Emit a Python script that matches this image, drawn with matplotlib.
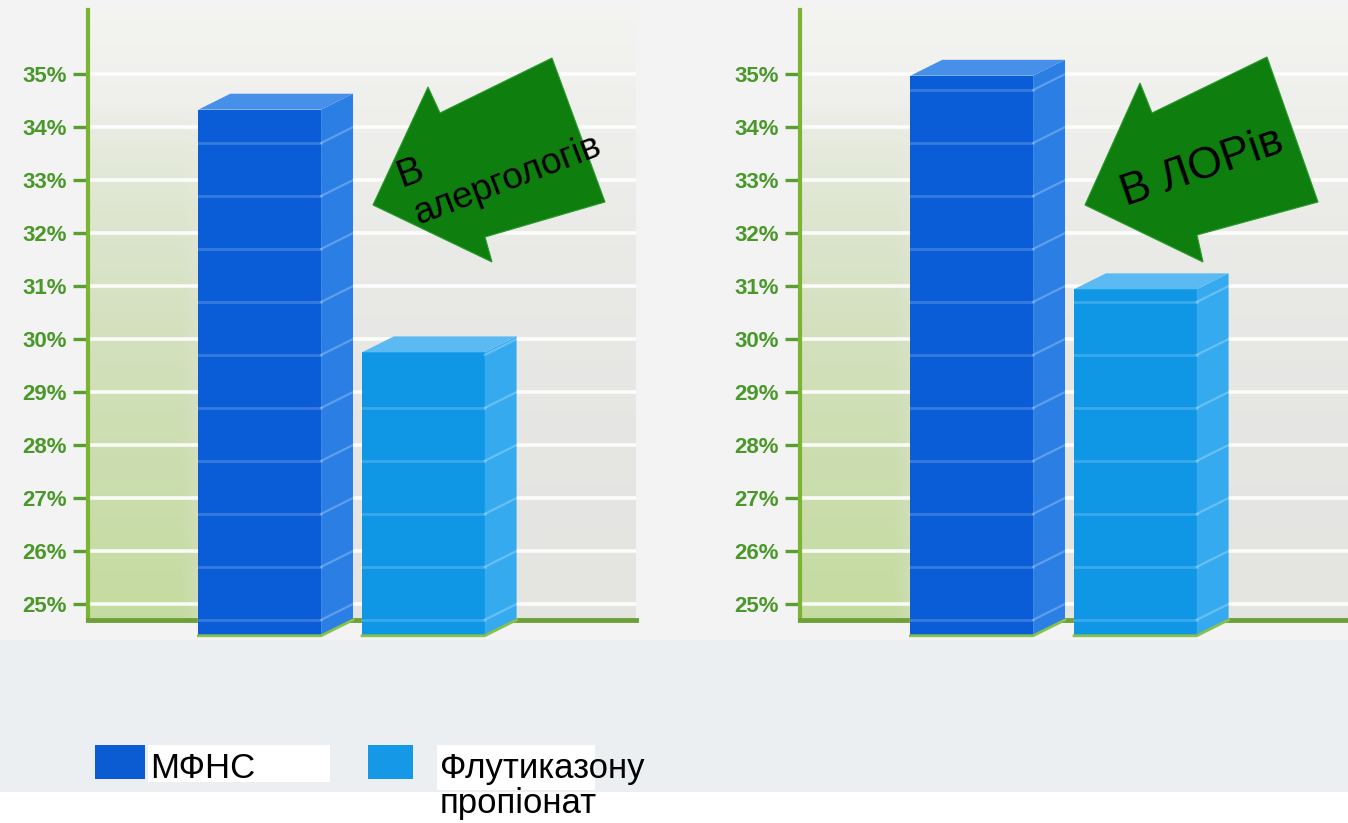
import numpy as np
import matplotlib
matplotlib.use('Agg')
import matplotlib.pyplot as plt
from matplotlib.patches import Polygon, Rectangle

plt.rcParams['font.family'] = ['Liberation Sans', 'DejaVu Sans']

# ---------------- data ----------------
series = ['МФНС', 'Флутиказону\nпропіонат']
panel_labels = ['В\nалергологів', 'В ЛОРів']
allergists = [34.33, 29.75]   # "В алергологів"
ent_doctors = [34.97, 30.94]  # "В ЛОРів"
yticks = list(range(25, 36))
ytick_labels = [f'{t}%' for t in yticks]

# ---------------- style ----------------
W, H = 1348, 823
front_colors = ['#0a5dd6', '#0f97e6']
side_colors = ['#2a7ee4', '#35aaef']
top_colors = ['#4690ea', '#5cbaf2']
legend_colors = ['#0b5bd3', '#1599e6']
arrow_green = '#0e7f0e'
tick_green = '#4a972a'
axis_green = '#79b532'

YB, YT = 24.32, 36.21      # y-limits
BASE = 24.70               # axis baseline
BOTTOM = 24.40             # bar front bottom
DX, DY = 0.195, 0.30       # 3-D depth offset
BW = 0.75
XL, XR = -1.05, 2.30


def fx(x):
    return x / W


def fy(y):
    return 1 - y / H


fig = plt.figure(figsize=(W / 100, H / 100), dpi=100)
fig.patch.set_facecolor('#f3f3f3')

# bottom bands
fig.patches.append(Rectangle((0, fy(792)), 1, (792 - 640) / H, transform=fig.transFigure,
                             facecolor='#ebeff1', edgecolor='none', zorder=-5))
fig.patches.append(Rectangle((0, 0), 1, fy(792), transform=fig.transFigure,
                             facecolor='white', edgecolor='none', zorder=-4))


def background(ax):
    nx, ny = 300, 200
    u = np.linspace(0, 1, nx)[None, :]
    v = np.linspace(0, 1, ny)[:, None]
    gx = np.clip(1 - (u - 0.17) / 0.12, 0, 1)
    gy = np.clip(1 - v / 0.85, 0, 1) ** 0.7
    g = gx * gy
    gray = np.array([0.895, 0.895, 0.885]) + 0.06 * (v ** 2)[..., None] * np.ones((1, nx, 1))
    green = np.array([0.77, 0.86, 0.63])
    img = gray * (1 - g[..., None]) + green * g[..., None]
    img = np.clip(img, 0, 1)
    ax.imshow(img, extent=[XL, XR, BASE, YT], origin='lower', aspect='auto',
              zorder=0, interpolation='bilinear')


def draw_panel(ax, values):
    ax.set_xlim(XL, XR)
    ax.set_ylim(YB, YT)
    ax.set_facecolor('none')
    for s in ax.spines.values():
        s.set_visible(False)
    background(ax)
    # gridlines
    for t in yticks:
        ax.plot([XL, XR], [t, t], color='white', lw=2.6, alpha=0.9, zorder=1,
                solid_capstyle='butt')
    # axes lines
    ax.plot([XL, XL], [BASE, YT], color=axis_green, lw=3, zorder=2, clip_on=False)
    ax.plot([XL, XR], [BASE, BASE], color='#6e9f38', lw=3.5, zorder=2, clip_on=False)

    x = np.arange(len(values))
    vals = np.array(values)
    ax.bar(x, vals - BOTTOM, bottom=BOTTOM, width=BW, color=front_colors,
           linewidth=0, zorder=3)
    for xi, v, sc, tc in zip(x, vals, side_colors, top_colors):
        xl, xr = xi - BW / 2, xi + BW / 2
        ax.add_patch(Polygon([(xr, BOTTOM), (xr + DX, BOTTOM + DY), (xr + DX, v + DY), (xr, v)],
                             closed=True, facecolor=sc, edgecolor='none', zorder=3))
        ax.add_patch(Polygon([(xl, v), (xl + DX, v + DY), (xr + DX, v + DY), (xr, v)],
                             closed=True, facecolor=tc, edgecolor='none', zorder=3))
        for t in yticks:
            yy = t - DY
            if BOTTOM < yy < v - 0.1:
                ax.plot([xl, xr], [yy, yy], color='white', alpha=0.18, lw=2, zorder=4)
            if BOTTOM < yy < v:
                ax.plot([xr, xr + DX], [yy, t], color='white', alpha=0.25, lw=1.6, zorder=4)
        ax.plot([xl, xr, xr + DX], [BOTTOM, BOTTOM, BOTTOM + DY], color='#86c24c',
                lw=2, zorder=4, clip_on=False)

    ax.set_xticks([])
    ax.set_yticks(yticks)
    ax.set_yticklabels(ytick_labels, fontweight='bold', fontsize=16, color=tick_green)
    ax.tick_params(axis='y', length=11, width=2.4, color='#5a9e30', pad=4)


# axes
ax1 = fig.add_axes([fx(88), fy(640), (636 - 88) / W, 630 / H])
ax2 = fig.add_axes([fx(800), fy(640), (1348 - 800) / W, 630 / H])
draw_panel(ax1, allergists)
draw_panel(ax2, ent_doctors)

# arrows (decorative annotations)
arrow_left = [(373, 205), (428, 87), (440, 113), (552, 58), (605, 202), (485, 237), (492, 262)]
arrow_right = [(1085, 205), (1140, 83), (1152, 113), (1267, 57), (1318, 202), (1197, 235), (1203, 262)]
for pts in (arrow_left, arrow_right):
    fig.patches.append(Polygon([(fx(a), fy(b)) for a, b in pts], closed=True,
                               transform=fig.transFigure, facecolor=arrow_green,
                               edgecolor='#2a9a2a', lw=0.8, zorder=10))

l1, l2 = panel_labels[0].split('\n')
fig.text(fx(402), fy(187), l1, rotation=20, rotation_mode='anchor', ha='left',
         va='baseline', fontsize=28, color='black', zorder=11)
fig.text(fx(419), fy(225), l2, rotation=21, rotation_mode='anchor', ha='left',
         va='baseline', fontsize=26.5, color='black', zorder=11)
fig.text(fx(1126), fy(206), panel_labels[1], rotation=19, rotation_mode='anchor', ha='left',
         va='baseline', fontsize=32, color='black', zorder=11)

# legend
leg_font = ['Liberation Sans', 'DejaVu Sans']
fig.patches.append(Rectangle((fx(148), fy(782)), (330 - 148) / W, 37 / H, transform=fig.transFigure,
                             facecolor='white', edgecolor='none', zorder=6))
fig.patches.append(Rectangle((fx(437), fy(790)), (595 - 437) / W, 45 / H, transform=fig.transFigure,
                             facecolor='white', edgecolor='none', zorder=6))
fig.patches.append(Rectangle((fx(95), fy(779)), 50 / W, 34 / H, transform=fig.transFigure,
                             facecolor=legend_colors[0], edgecolor='none', zorder=7))
fig.patches.append(Rectangle((fx(368), fy(779)), 45 / W, 34 / H, transform=fig.transFigure,
                             facecolor=legend_colors[1], edgecolor='none', zorder=7))
fig.text(fx(150), fy(778), series[0], family=leg_font, fontsize=25, ha='left',
         va='baseline', color='black', zorder=8)
s1, s2 = series[1].split('\n')
fig.text(fx(440), fy(778), s1, family=leg_font, fontsize=25, ha='left',
         va='baseline', color='black', zorder=8)
fig.text(fx(440), fy(813), s2, family=leg_font, fontsize=25, ha='left',
         va='baseline', color='black', zorder=8)

fig.savefig('out.png', dpi=100, facecolor=fig.get_facecolor())
